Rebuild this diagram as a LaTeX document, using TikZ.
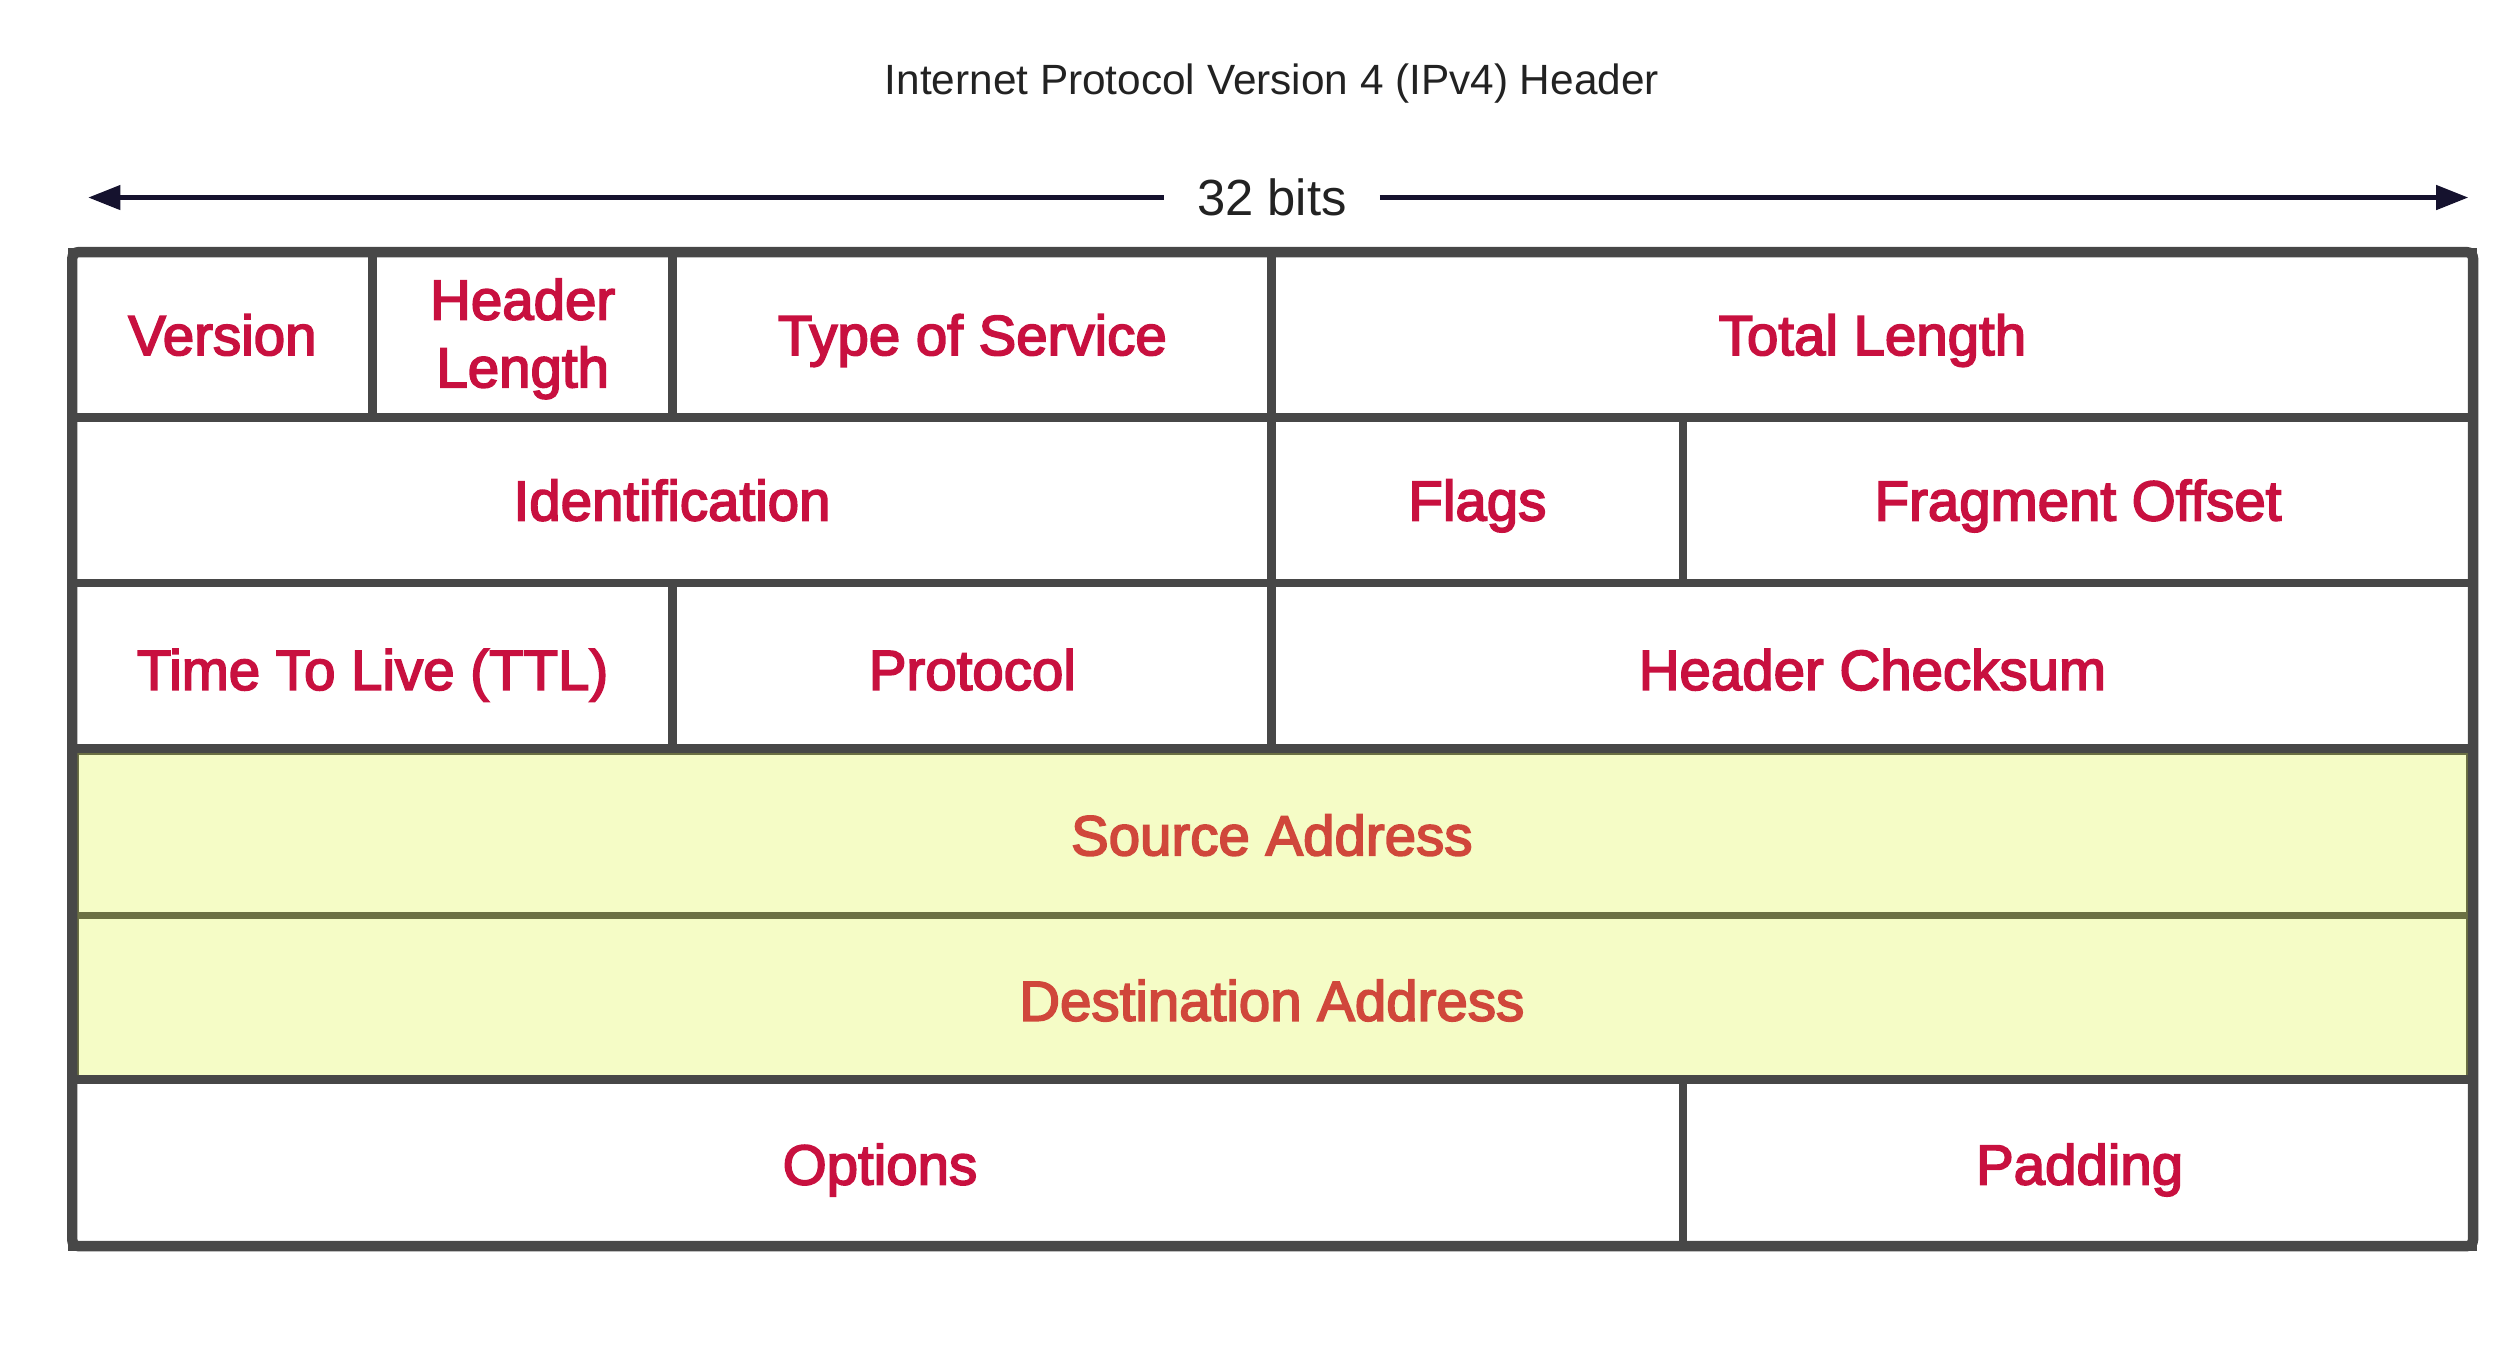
\documentclass[tikz,border=0pt]{standalone}
\usepackage{fontspec}
\setmainfont{Liberation Sans}
\newfontfamily\fieldfont{Liberation Sans}[FakeBold=3]
\usepackage{tikz}
\usetikzlibrary{arrows.meta}

\definecolor{framegray}{HTML}{474747}
\definecolor{fieldred}{HTML}{C8103F}
\definecolor{addrred}{HTML}{D0473B}
\definecolor{addrfill}{HTML}{F5FCC6}
\definecolor{addrline}{HTML}{6B7043}
\definecolor{arrownavy}{HTML}{15122E}
\definecolor{titlegray}{HTML}{222222}

\tikzset{
  field/.style={text=fieldred, font=\fieldfont\fontsize{10}{12}\selectfont, inner sep=0pt, text height=2.52mm, text depth=0pt},
  twoline/.style={field, align=center, text height={}, text depth={}},
  addr/.style={field, text=addrred},
  cellline/.style={draw=framegray, line width=0.55mm},
  addrbox/.style={fill=addrfill, draw=addrline, line width=0.45mm},
  bitsarrow/.style={draw=arrownavy, line width=0.28mm, -{Triangle[length=2mm,width=1.5mm]}}
}

\begin{document}
\begin{tikzpicture}[x=0.1mm, y=-0.1mm]
\useasboundingbox (0,0) rectangle (1568,839);
% heading
\node [font=\fontsize{7.5}{9}\selectfont, text=titlegray] (title) at (792,52) {Internet Protocol Version 4 (IPv4) Header};
\node [font=\fontsize{9}{11}\selectfont, text=titlegray, inner xsep=2mm] (bits) at (792,123) {32 bits};
\coordinate (bitsL) at (55,123);
\coordinate (bitsR) at (1537,123);
\draw [bitsarrow] (bits.west) -- (bitsL);
\draw [bitsarrow] (bits.east) -- (bitsR);
% address rows
\draw [addrbox] (47,468) rectangle (1538,570);
\draw [addrbox] (47,570) rectangle (1538,672);
\node [addr] (src) at (792,520) {Source Address};
\node [addr] (dst) at (792,623) {Destination Address};
% row 1
\draw [cellline] (45,157) rectangle (232,260);
\draw [cellline] (232,157) rectangle (419,260);
\draw [cellline] (419,157) rectangle (792,260);
\draw [cellline] (792,157) rectangle (1540,260);
\node [field] (version) at (138.5,208.5) {Version};
\node [twoline] (hlen) at (325.5,211) {Header\\Length};
\node [field] (tos) at (605.5,208.5) {Type of Service};
\node [field] (totlen) at (1166,208.5) {Total Length};
% row 2
\draw [cellline] (45,260) rectangle (792,363);
\draw [cellline] (792,260) rectangle (1048,363);
\draw [cellline] (1048,260) rectangle (1540,363);
\node [field] (ident) at (418.5,311.5) {Identification};
\node [field] (flags) at (920,311.5) {Flags};
\node [field] (fragoff) at (1294,311.5) {Fragment Offset};
% row 3
\draw [cellline] (45,363) rectangle (419,466);
\draw [cellline] (419,363) rectangle (792,466);
\draw [cellline] (792,363) rectangle (1540,466);
\node [field] (ttl) at (232,417) {Time To Live (TTL)};
\node [field] (proto) at (605.5,417) {Protocol};
\node [field] (checksum) at (1166,417) {Header Checksum};
% row 6
\draw [cellline] (45,672) rectangle (1048,776);
\draw [cellline] (1048,672) rectangle (1540,776);
\node [field] (options) at (548,725) {Options};
\node [field] (padding) at (1295,725) {Padding};
% outer frame
\draw [draw=framegray, line width=0.65mm, rounded corners=0.4mm] (45,157) rectangle (1540,776);
\end{tikzpicture}
\end{document}
